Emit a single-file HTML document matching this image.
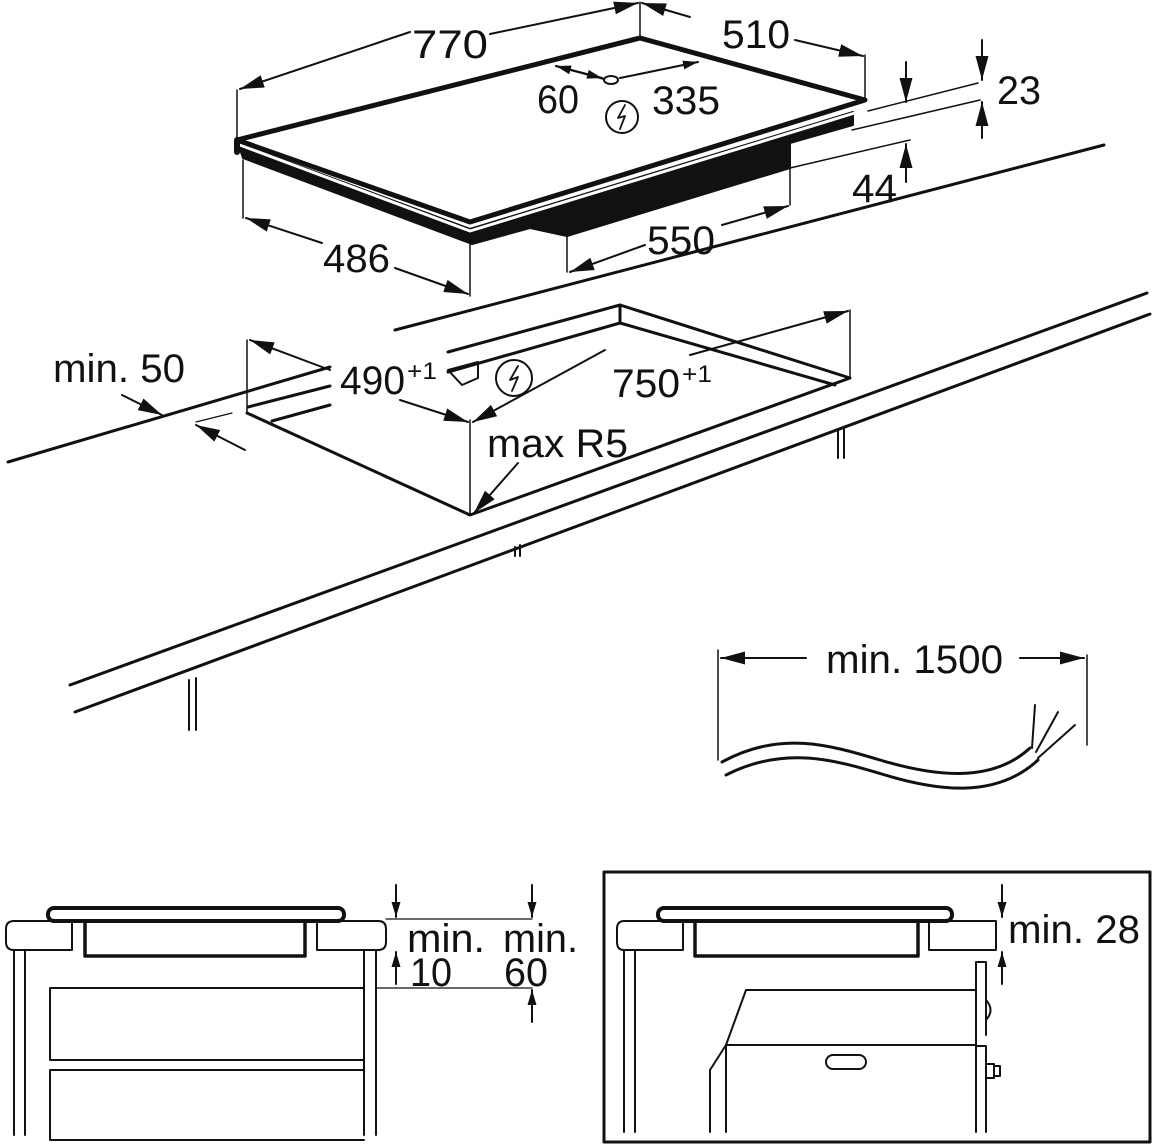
<!DOCTYPE html>
<html><head><meta charset="utf-8"><style>
html,body{margin:0;padding:0;background:#fff}
svg{display:block}
text{font-family:"Liberation Sans",sans-serif;fill:#111}
</style></head><body>
<svg width="1154" height="1146" viewBox="0 0 1154 1146" xmlns="http://www.w3.org/2000/svg">
<defs>
<marker id="a" viewBox="0 0 10 10" refX="10" refY="5" markerWidth="15" markerHeight="15" orient="auto-start-reverse" markerUnits="userSpaceOnUse"><path d="M0,2 L10,5 L0,8 z" fill="#111"/></marker>
<marker id="b" viewBox="0 0 10 10" refX="10" refY="5" markerWidth="24" markerHeight="24" orient="auto-start-reverse" markerUnits="userSpaceOnUse"><path d="M0,2.3 L10,5 L0,7.7 z" fill="#111"/></marker>
</defs>
<g stroke="#111" fill="none" stroke-linecap="round" stroke-linejoin="round">
<!-- HOB -->
<polygon points="470,229 853,112 853,125 790,143 790,168 567,236 530,228 472,244" fill="#111" stroke-width="2"/>
<polygon points="238,143 470,229 472,244 243,158" fill="#111" stroke-width="2"/>
<path d="M240,145 L470,231 L858,112" stroke="#fff" stroke-width="3"/>
<polygon points="237,140 640,38 865,100 470,222" stroke-width="5" fill="#fff"/>
<path d="M237,140 L237,152" stroke-width="6"/>
<!-- hob dimension lines -->
<line x1="237" y1="140" x2="237" y2="90" stroke-width="1.5"/>
<line x1="640" y1="38" x2="640" y2="2" stroke-width="1.5"/>
<line x1="865" y1="100" x2="865" y2="55" stroke-width="1.5"/>
<line x1="243" y1="160" x2="243" y2="218" stroke-width="1.5"/>
<line x1="470" y1="244" x2="470" y2="296" stroke-width="1.5"/>
<line x1="567" y1="236" x2="567" y2="272" stroke-width="1.5"/>
<line x1="790" y1="168" x2="790" y2="205" stroke-width="1.5"/>
<line x1="410" y1="32" x2="240" y2="89" stroke-width="2" marker-end="url(#b)"/>
<line x1="490" y1="34" x2="638" y2="3" stroke-width="2" marker-end="url(#b)"/>
<line x1="690" y1="17" x2="642" y2="3" stroke-width="2" marker-end="url(#b)"/>
<line x1="795" y1="40" x2="863" y2="56" stroke-width="2" marker-end="url(#b)"/>
<line x1="322" y1="243" x2="246" y2="218" stroke-width="2" marker-end="url(#b)"/>
<line x1="395" y1="268" x2="468" y2="294" stroke-width="2" marker-end="url(#b)"/>
<line x1="645" y1="245" x2="570" y2="272" stroke-width="2" marker-end="url(#b)"/>
<line x1="722" y1="225" x2="788" y2="206" stroke-width="2" marker-end="url(#b)"/>
<line x1="604" y1="79" x2="556" y2="66" stroke-width="2" marker-end="url(#a)"/>
<line x1="556" y1="66" x2="602" y2="78" stroke-width="2" marker-end="url(#a)"/>
<line x1="620" y1="78" x2="698" y2="62" stroke-width="2" marker-end="url(#a)"/>
<ellipse cx="611" cy="80" rx="7" ry="4" stroke-width="2"/>
<circle cx="622" cy="117" r="16" stroke-width="2"/>
<path d="M625,105 L618,118 L625,116 L620,129" stroke-width="1.8"/>
<!-- 23 / 44 -->
<line x1="868" y1="111" x2="978" y2="83" stroke-width="1.5"/>
<line x1="852" y1="130" x2="980" y2="100" stroke-width="1.5"/>
<line x1="790" y1="168" x2="910" y2="140" stroke-width="1.5"/>
<line x1="906" y1="62" x2="906" y2="102" stroke-width="2" marker-end="url(#b)"/>
<line x1="982" y1="40" x2="982" y2="80" stroke-width="2" marker-end="url(#b)"/>
<line x1="982" y1="138" x2="982" y2="102" stroke-width="2" marker-end="url(#b)"/>
<line x1="906" y1="182" x2="906" y2="144" stroke-width="2" marker-end="url(#b)"/>
<!-- COUNTERTOP -->
<line x1="395" y1="330" x2="1104" y2="145" stroke-width="3"/>
<line x1="8" y1="462" x2="330" y2="367" stroke-width="3"/>
<line x1="248" y1="407" x2="330" y2="386" stroke-width="3"/>
<line x1="272" y1="421" x2="330" y2="405" stroke-width="3"/>
<line x1="70" y1="685" x2="1147" y2="293" stroke-width="3"/>
<line x1="75" y1="712" x2="1150" y2="314" stroke-width="3"/>
<!-- cutout -->
<polyline points="247,413 470,515 850,378 620,305 448,352" stroke-width="3"/>
<line x1="620" y1="305" x2="620" y2="323" stroke-width="3"/>
<polyline points="448,372 620,323 835,385" stroke-width="3"/>
<polygon points="448,370 478,362 478,378 462,385" stroke-width="2"/>
<circle cx="514" cy="378" r="18" stroke-width="2"/>
<path d="M518,366 L510,380 L518,377 L512,391" stroke-width="1.8"/>
<line x1="247" y1="340" x2="247" y2="413" stroke-width="1.5"/>
<line x1="470" y1="420" x2="470" y2="515" stroke-width="1.5"/>
<line x1="850" y1="310" x2="850" y2="378" stroke-width="1.5"/>
<line x1="330" y1="370" x2="250" y2="340" stroke-width="2" marker-end="url(#b)"/>
<line x1="400" y1="400" x2="468" y2="422" stroke-width="2" marker-end="url(#b)"/>
<line x1="605" y1="350" x2="473" y2="422" stroke-width="2" marker-end="url(#b)"/>
<line x1="690" y1="355" x2="848" y2="311" stroke-width="2" marker-end="url(#b)"/>
<line x1="518" y1="463" x2="474" y2="513" stroke-width="2" marker-end="url(#b)"/>
<line x1="122" y1="395" x2="162" y2="415" stroke-width="2" marker-end="url(#b)"/>
<line x1="245" y1="450" x2="196" y2="425" stroke-width="2" marker-end="url(#b)"/>
<line x1="196" y1="422" x2="232" y2="413" stroke-width="1.2"/>
<!-- legs -->
<path d="M189,680 V730 M196,678 V730" stroke-width="2"/>
<path d="M515,547 V556 M520,545 V556" stroke-width="2"/>
<path d="M838,430 V458 M844,428 V458" stroke-width="2"/>
<!-- cable -->
<line x1="718" y1="650" x2="718" y2="760" stroke-width="1.5"/>
<line x1="1087" y1="655" x2="1087" y2="745" stroke-width="1.5"/>
<line x1="806" y1="658" x2="721" y2="658" stroke-width="2" marker-end="url(#b)"/>
<line x1="1020" y1="658" x2="1084" y2="658" stroke-width="2" marker-end="url(#b)"/>
<path d="M722,762 C780,730 830,745 880,760 C930,775 990,785 1030,748" stroke-width="3"/>
<path d="M726,775 C785,745 835,760 885,775 C935,790 995,800 1038,760" stroke-width="3"/>
<path d="M1032,748 L1035,705 M1036,752 L1058,712 M1038,758 L1075,725" stroke-width="2"/>
<!-- BOTTOM LEFT -->
<rect x="48" y="908" width="296" height="13" rx="6" stroke-width="4"/>
<path d="M85,921 V956 H305 V921" stroke-width="3.5"/>
<path d="M72,921 H14 Q6,921 6,929 V942 Q6,950 14,950 H72 Z" stroke-width="2"/>
<path d="M317,921 H378 Q386,921 386,929 V942 Q386,950 378,950 H317 Z" stroke-width="2"/>
<path d="M14,950 V1135 M25,950 V1135 M364,950 V1135 M376,950 V1135" stroke-width="2"/>
<path d="M50,988 H364 M50,988 V1060 H364 M50,1070 H364 M50,1070 V1140 H364" stroke-width="2"/>
<line x1="386" y1="919" x2="532" y2="919" stroke-width="1.2"/>
<line x1="376" y1="988" x2="532" y2="988" stroke-width="1.2"/>
<line x1="396" y1="885" x2="396" y2="917" stroke-width="2" marker-end="url(#a)"/>
<line x1="396" y1="984" x2="396" y2="952" stroke-width="2" marker-end="url(#a)"/>
<line x1="532" y1="885" x2="532" y2="917" stroke-width="2" marker-end="url(#a)"/>
<line x1="532" y1="1022" x2="532" y2="990" stroke-width="2" marker-end="url(#a)"/>
<!-- BOTTOM RIGHT -->
<rect x="604" y="872" width="546" height="270" stroke-width="3"/>
<rect x="658" y="908" width="294" height="13" rx="6" stroke-width="4"/>
<path d="M695,921 V956 H918 V921" stroke-width="3.5"/>
<path d="M683,921 H624 Q617,921 617,929 V942 Q617,950 624,950 H683 Z" stroke-width="2"/>
<path d="M929,921 H996 V950 H929 Z" stroke-width="2"/>
<path d="M624,950 V1132 M635,950 V1132" stroke-width="2"/>
<path d="M976,962 H986 V1035 M976,962 V1132 M976,1046 H986 V1132" stroke-width="2"/>
<path d="M746,990 H976 M746,990 L726,1045 H976 M726,1045 V1132 M726,1045 L710,1070 V1132" stroke-width="2"/>
<rect x="826" y="1055" width="40" height="14" rx="7" stroke-width="2"/>
<path d="M986,1000 Q995,1010 986,1020" stroke-width="2"/>
<path d="M986,1064 H994 V1078 H986 M994,1066 H1000 V1076 H994" stroke-width="2"/>
<line x1="1002" y1="885" x2="1002" y2="917" stroke-width="2" marker-end="url(#a)"/>
<line x1="1002" y1="984" x2="1002" y2="952" stroke-width="2" marker-end="url(#a)"/>
</g>
<g font-size="40">
<text x="412" y="58" textLength="76" lengthAdjust="spacingAndGlyphs">770</text>
<text x="722" y="48" textLength="68" lengthAdjust="spacingAndGlyphs">510</text>
<text x="537" y="113" textLength="42" lengthAdjust="spacingAndGlyphs">60</text>
<text x="652" y="114" textLength="68" lengthAdjust="spacingAndGlyphs">335</text>
<text x="997" y="104" textLength="44" lengthAdjust="spacingAndGlyphs">23</text>
<text x="852" y="202" textLength="45" lengthAdjust="spacingAndGlyphs">44</text>
<text x="323" y="272" textLength="67" lengthAdjust="spacingAndGlyphs">486</text>
<text x="647" y="254" textLength="68" lengthAdjust="spacingAndGlyphs">550</text>
<text x="53" y="382" textLength="132" lengthAdjust="spacingAndGlyphs">min. 50</text>
<text x="340" y="394" textLength="65" lengthAdjust="spacingAndGlyphs">490</text>
<text x="407" y="379" font-size="24" textLength="30" lengthAdjust="spacingAndGlyphs">+1</text>
<text x="612" y="397" textLength="68" lengthAdjust="spacingAndGlyphs">750</text>
<text x="682" y="382" font-size="24" textLength="30" lengthAdjust="spacingAndGlyphs">+1</text>
<text x="487" y="457" textLength="141" lengthAdjust="spacingAndGlyphs">max R5</text>
<text x="826" y="673" textLength="177" lengthAdjust="spacingAndGlyphs">min. 1500</text>
<text x="407" y="952" textLength="78" lengthAdjust="spacingAndGlyphs">min.</text>
<text x="410" y="986" textLength="42" lengthAdjust="spacingAndGlyphs">10</text>
<text x="503" y="952" textLength="75" lengthAdjust="spacingAndGlyphs">min.</text>
<text x="504" y="986" textLength="44" lengthAdjust="spacingAndGlyphs">60</text>
<text x="1008" y="943" textLength="132" lengthAdjust="spacingAndGlyphs">min. 28</text>
</g>
</svg>
</body></html>
